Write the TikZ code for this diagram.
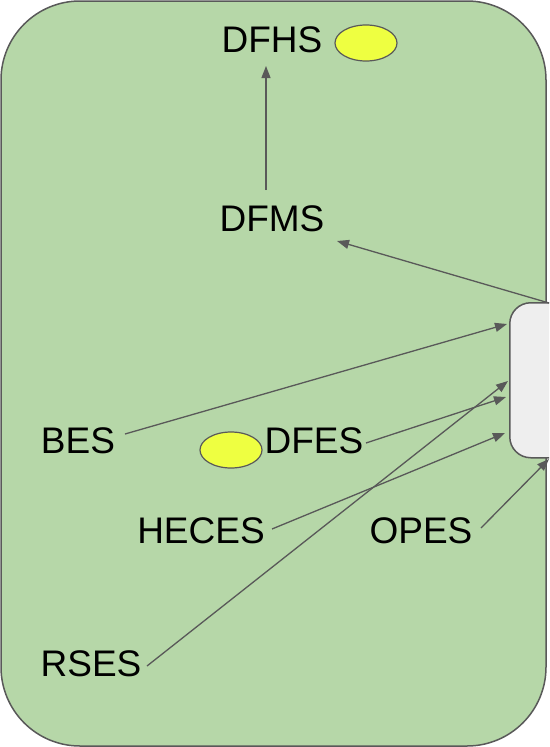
\documentclass[tikz,border=0pt]{standalone}
\usepackage{fontspec}
\setmainfont{Liberation Sans}
\usetikzlibrary{arrows.meta,calc,shapes.geometric}
\definecolor{bggreen}{HTML}{B6D7A8}
\definecolor{boxgrey}{HTML}{EEEEEE}
\definecolor{linegrey}{HTML}{595959}
\definecolor{dotyellow}{HTML}{EEFF41}
\tikzset{
  lbl/.style={font=\fontsize{37}{37}\selectfont, inner sep=0pt, text height=26.5pt, text depth=0pt, text=black},
  dot/.style={ellipse, draw=linegrey, line width=1.2pt, fill=dotyellow, minimum width=62pt, minimum height=36pt, inner sep=0pt},
  conn/.style={draw=linegrey, line width=1.3pt, -{Triangle[length=12pt,width=9pt]}, fill=linegrey},
}
\begin{document}
\begin{tikzpicture}[x=1pt,y=-1pt]
\useasboundingbox (0,0) rectangle (549,747);
\clip (0,0) rectangle (549,747);
% big green container
\node[draw=linegrey, line width=1.5pt, fill=bggreen, rounded corners=79pt, minimum width=545pt, minimum height=745pt, inner sep=0pt] (green) at (273.5,373.5) {};
% grey box at right
\node[draw=linegrey, line width=1.5pt, fill=boxgrey, rounded corners=21pt, minimum width=100pt, minimum height=155pt, inner sep=0pt, anchor=north west] (grey) at (509,302) {};
% labels
\node[lbl] (dfhs) at (272,39) {DFHS};
\node[lbl] (dfms) at (272,218) {DFMS};
\node[lbl] (bes) at (78,440) {BES};
\node[lbl] (dfes) at (314,440) {DFES};
\node[lbl] (heces) at (201,530) {HECES};
\node[lbl] (opes) at (421,530) {OPES};
\node[lbl] (rses) at (91,663) {RSES};
% ellipses
\node[dot] (dot1) at (366,43) {};
\node[dot] (dot2) at (231,450) {};
% tip coordinates on grey box
\coordinate (t1) at (507,324);
\coordinate (t2) at (506,397);
\coordinate (t3) at (508,381);
\coordinate (t4) at (505,433);
\coordinate (t5) at (549,459);
% connectors
\draw[conn] ($(dfms)+(-6,-28)$) -- ($(dfhs)+(-6,27)$);
\draw[conn] ([xshift=40pt,yshift=-1pt]grey.north west) -- ($(dfms)+(65,23)$);
\draw[conn] ($(bes)+(47,-6)$) -- (t1);
\draw[conn] ($(dfes)+(52,3)$) -- (t2);
\draw[conn] ($(rses)+(56,3)$) -- (t3);
\draw[conn] ($(heces)+(71,-1)$) -- (t4);
\draw[conn] ($(opes)+(60,-2)$) -- (t5);
\end{tikzpicture}
\end{document}
